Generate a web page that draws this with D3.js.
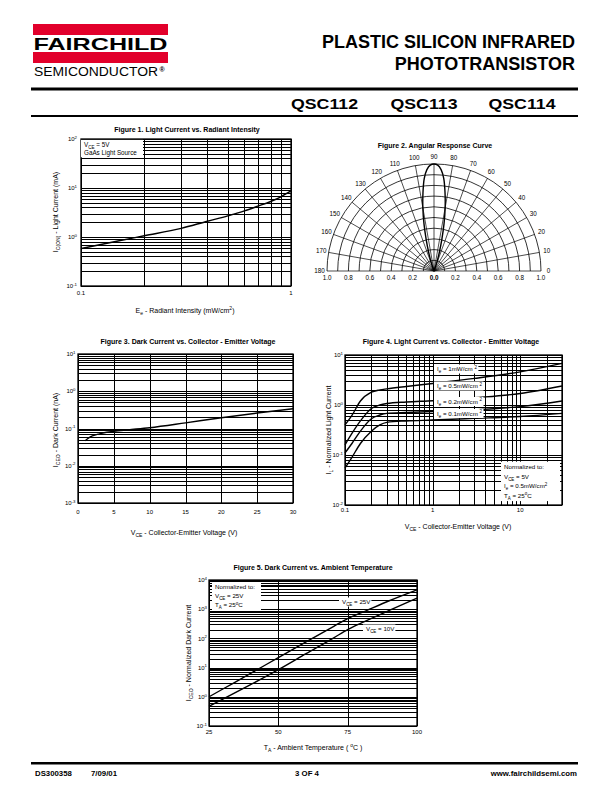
<!DOCTYPE html>
<html>
<head>
<meta charset="utf-8">
<script src="https://cdn.jsdelivr.net/npm/d3@7/dist/d3.min.js"></script>
<style>
html,body{margin:0;padding:0;background:#fff;}
svg{display:block;}
text{font-family:"Liberation Sans",Arial,Helvetica,sans-serif;fill:#000;}
</style>
</head>
<body>
<script>
// ================= DATA =================
const titleLines = ["PLASTIC SILICON INFRARED", "PHOTOTRANSISTOR"];
const partNumbers = ["QSC112", "QSC113", "QSC114"];
const footerLeft = ["DS300358", "7/09/01"];
const footerCenter = "3 OF 4";
const footerRight = "www.fairchildsemi.com";

// Figure 1: light current vs radiant intensity
const fig1Intensity = [0.1, 0.15, 0.2, 0.3, 0.4, 0.5, 0.6, 0.7, 0.8, 0.9, 1.0];
const fig1Current   = [0.58, 0.83, 1.06, 1.5, 2.1, 2.7, 3.4, 4.3, 5.3, 6.7, 8.7];
const fig1XTicks = [0.1, 1];
const fig1YDecades = [-1, 0, 1, 2];

// Figure 2: angular response (offset from axis in degrees, relative response)
const fig2Offsets  = [0, 2, 4, 6, 8, 10, 12, 14, 16, 18, 20];
const fig2Response = [1.0, 0.99, 0.95, 0.87, 0.74, 0.6, 0.45, 0.3, 0.18, 0.09, 0];
const fig2AngleLabels = [0, 10, 20, 30, 40, 50, 60, 70, 80, 90, 100, 110, 120, 130, 140, 150, 160, 170, 180];
const fig2RadiusTicks = [-1.0, -0.8, -0.6, -0.4, -0.2, 0.0, 0.2, 0.4, 0.6, 0.8, 1.0];
const fig2Rings = [0.1, 0.2, 0.3, 0.4, 0.5, 0.6, 0.7, 0.8, 0.9, 1.0];

// Figure 3: dark current vs VCE
const fig3Voltage = [1, 1.5, 2, 3, 4, 5, 7, 10, 15, 20, 25, 30];
const fig3Dark    = [0.047, 0.056, 0.063, 0.072, 0.079, 0.084, 0.092, 0.105, 0.142, 0.195, 0.26, 0.34];
const fig3XTicks = [0, 5, 10, 15, 20, 25, 30];
const fig3YDecades = [-3, -2, -1, 0, 1];

// Figure 4: normalized light current vs VCE
const fig4Voltage = [0.1, 0.12, 0.15, 0.2, 0.25, 0.3, 0.5, 1, 3, 10, 30];
const fig4Ie1  = [0.40, 0.62, 1.2, 1.8, 2.0, 2.1, 2.35, 2.7, 3.4, 4.6, 6.8];
const fig4Ie05 = [0.16, 0.27, 0.48, 0.85, 1.0, 1.07, 1.15, 1.22, 1.4, 1.7, 2.4];
const fig4Ie02 = [0.11, 0.17, 0.3, 0.53, 0.63, 0.68, 0.71, 0.74, 0.8, 0.93, 1.2];
const fig4Ie01 = [0.055, 0.09, 0.17, 0.3, 0.4, 0.45, 0.48, 0.5, 0.54, 0.59, 0.68];
const fig4SeriesNames = ["1mW/cm", "0.5mW/cm", "0.2mW/cm", "0.1mW/cm"];
const fig4XTicks = [0.1, 1, 10];
const fig4YDecades = [-2, -1, 0, 1];

// Figure 5: normalized dark current vs ambient temperature
const fig5Temp  = [25, 30, 40, 50, 60, 70, 75, 80, 90, 100];
const fig5Vce25 = [1.0, 1.85, 6.3, 22, 76, 260, 480, 760, 1950, 4600];
const fig5Vce10 = [0.47, 0.83, 2.6, 8.5, 30, 105, 200, 340, 910, 2400];
const fig5XTicks = [25, 50, 75, 100];
const fig5YDecades = [-1, 0, 1, 2, 3, 4];

// ================= HELPERS =================
const svg = d3.select("body").append("svg").attr("width", 612).attr("height", 792);
svg.append("rect").attr("width", 612).attr("height", 792).attr("fill", "#fff");

function rich(sel, parts, fs) {
  let shift = 0;
  parts.forEach(p => {
    const s = typeof p === "string" ? p : p[0];
    const k = typeof p === "string" ? null : p[1];
    const target = k === "sub" ? fs * 0.3 : k === "sup" ? -fs * 0.4 : 0;
    sel.append("tspan").attr("dy", (target - shift).toFixed(2))
      .attr("font-size", k ? (fs * 0.72).toFixed(2) : fs).text(s);
    shift = target;
  });
  return sel;
}
function logGrid(domain) {
  const out = [];
  const a = Math.floor(Math.log10(domain[0])), b = Math.ceil(Math.log10(domain[1]));
  for (let d = a; d <= b; d++) for (let m = 1; m < 10; m++) {
    const v = +(m * Math.pow(10, d)).toPrecision(6);
    if (v >= domain[0] * 0.9999 && v <= domain[1] * 1.0001) out.push(v);
  }
  return out;
}
function frame(box, x, y, xGrid, yGrid) {
  const g = svg.append("g");
  const w = box.right - box.left, h = box.bottom - box.top;
  g.append("g").attr("class", "grid").attr("transform", `translate(0,${box.bottom})`)
    .call(d3.axisBottom(x).tickValues(xGrid).tickSize(-h).tickSizeOuter(0).tickFormat(""));
  g.append("g").attr("class", "grid").attr("transform", `translate(${box.left},0)`)
    .call(d3.axisLeft(y).tickValues(yGrid).tickSize(-w).tickSizeOuter(0).tickFormat(""));
  g.selectAll(".grid .domain").remove();
  g.selectAll(".grid line").attr("stroke", "#000").attr("stroke-width", 1).attr("shape-rendering", "crispEdges");
  g.append("rect").attr("x", box.left).attr("y", box.top).attr("width", w).attr("height", h)
    .attr("fill", "none").attr("stroke", "#000").attr("stroke-width", 1.3);
  return g;
}
function decadeLabels(y, decs, xRight, fs) {
  decs.forEach(e => {
    const t = svg.append("text").attr("x", xRight).attr("y", y(Math.pow(10, e)) + fs * 0.35)
      .attr("text-anchor", "end").attr("font-size", fs);
    rich(t, ["10", [String(e), "sup"]], fs);
  });
}
function figTitle(text, cx, y) {
  svg.append("text").attr("x", cx).attr("y", y).attr("text-anchor", "middle")
    .attr("font-size", 7).attr("font-weight", "bold").text(text);
}
function xTitle(parts, cx, y) {
  rich(svg.append("text").attr("x", cx).attr("y", y).attr("text-anchor", "middle").attr("font-size", 7), parts, 7);
}
function yTitle(parts, x, cy) {
  rich(svg.append("text").attr("transform", `translate(${x},${cy}) rotate(-90)`).attr("text-anchor", "middle").attr("font-size", 7), parts, 7);
}
function curve(x, y, xs, ys, w) {
  const pts = xs.map((v, i) => [x(v), y(ys[i])]);
  svg.append("path").attr("d", d3.line().curve(d3.curveMonotoneX)(pts))
    .attr("fill", "none").attr("stroke", "#000").attr("stroke-width", w || 1.4);
}
function labelBox(x, yc, lines, fs, lineH, padR, fixedW) {
  const g = svg.append("g");
  const bg = g.append("rect").attr("fill", "#fff");
  let maxW = 0;
  lines.forEach((parts, i) => {
    const t = g.append("text").attr("x", x).attr("y", yc + i * lineH + fs * 0.35).attr("font-size", fs);
    rich(t, parts, fs);
    maxW = Math.max(maxW, t.node().getComputedTextLength());
  });
  const top = yc - lineH / 2 - 0.5, hgt = lines.length * lineH + 1;
  bg.attr("x", x - 3).attr("y", top).attr("width", fixedW || (maxW + 3 + padR)).attr("height", hgt);
  return g;
}

// ================= HEADER =================
const RED = "#e2002b";
svg.append("rect").attr("x", 33).attr("y", 24).attr("width", 135).attr("height", 11).attr("fill", RED);
svg.append("rect").attr("x", 33).attr("y", 52).attr("width", 135).attr("height", 11).attr("fill", RED);
svg.append("text").attr("x", 33.5).attr("y", 50).attr("font-size", 16.5).attr("font-weight", "bold")
  .attr("textLength", 134).attr("lengthAdjust", "spacingAndGlyphs").text("FAIRCHILD");
svg.append("text").attr("x", 34).attr("y", 76).attr("font-size", 12)
  .attr("textLength", 124).attr("lengthAdjust", "spacingAndGlyphs").text("SEMICONDUCTOR");
svg.append("text").attr("x", 159.5).attr("y", 72).attr("font-size", 7).attr("font-weight", "bold").text("®");

titleLines.forEach((t, i) => {
  svg.append("text").attr("x", 575).attr("y", 48 + i * 22).attr("text-anchor", "end")
    .attr("font-size", 18).attr("font-weight", "bold").text(t);
});
svg.append("rect").attr("x", 31).attr("y", 87.5).attr("width", 547).attr("height", 3).attr("fill", "#000");
const partX = [291, 390.5, 488.5];
partNumbers.forEach((p, i) => {
  svg.append("text").attr("x", partX[i]).attr("y", 109).attr("font-size", 15.5).attr("font-weight", "bold")
    .attr("textLength", 67).attr("lengthAdjust", "spacingAndGlyphs").text(p);
});
svg.append("rect").attr("x", 31).attr("y", 115).attr("width", 547).attr("height", 2).attr("fill", "#000");

// ================= FIGURE 1 =================
const b1 = {left: 81, right: 291, top: 139, bottom: 286};
const x1 = d3.scaleLog().domain([0.1, 1]).range([b1.left, b1.right]);
const y1 = d3.scaleLog().domain([0.1, 100]).range([b1.bottom, b1.top]);
frame(b1, x1, y1, logGrid(x1.domain()), logGrid(y1.domain()));
labelBox(84, 144.5, [["V", ["CE", "sub"], " = 5V"], ["GaAs Light Source"]], 6.3, 8.2, 0, 62);
curve(x1, y1, fig1Intensity, fig1Current, 1.4);
figTitle("Figure 1. Light Current vs. Radiant Intensity", 187, 132);
decadeLabels(y1, fig1YDecades, 77, 6);
fig1XTicks.forEach(v => svg.append("text").attr("x", x1(v)).attr("y", 294.5).attr("text-anchor", "middle").attr("font-size", 6).text(String(v)));
xTitle(["E", ["e", "sub"], " - Radiant Intensity (mW/cm", ["2", "sup"], ")"], 185, 313);
yTitle(["I", ["C(ON)", "sub"], " - Light Current (mA)"], 58, 212);

// ================= FIGURE 2 =================
const c2 = {cx: 434, cy: 271, R: 107};
const r2 = d3.scaleLinear().domain([0, 1]).range([0, c2.R]);
const g2 = svg.append("g").attr("transform", `translate(${c2.cx},${c2.cy})`);
fig2Rings.forEach(v => {
  const p = d3.path(); const r = r2(v);
  p.moveTo(-r, 0); p.arc(0, 0, r, Math.PI, 2 * Math.PI);
  g2.append("path").attr("d", p.toString()).attr("fill", "none").attr("stroke", "#000").attr("stroke-width", 0.8);
});
fig2AngleLabels.forEach(a => {
  const t = a * Math.PI / 180;
  g2.append("line").attr("x1", 0).attr("y1", 0).attr("x2", r2(1) * Math.cos(t)).attr("y2", -r2(1) * Math.sin(t))
    .attr("stroke", "#000").attr("stroke-width", 0.7);
  const rl = c2.R + 7.5;
  g2.append("text").attr("x", rl * Math.cos(t)).attr("y", -rl * Math.sin(t) + 2.2)
    .attr("text-anchor", "middle").attr("font-size", 6.3).text(String(a));
});
const lobePts = [];
for (let i = fig2Offsets.length - 1; i >= 0; i--) lobePts.push({a: fig2Offsets[i] * Math.PI / 180, v: fig2Response[i]});
for (let i = 1; i < fig2Offsets.length; i++) lobePts.push({a: -fig2Offsets[i] * Math.PI / 180, v: fig2Response[i]});
g2.append("path").attr("d", d3.lineRadial().angle(d => d.a).radius(d => r2(d.v)).curve(d3.curveCatmullRom)(lobePts))
  .attr("fill", "none").attr("stroke", "#000").attr("stroke-width", 1.4);
fig2RadiusTicks.forEach(v => {
  g2.append("text").attr("x", Math.sign(v) * r2(Math.abs(v))).attr("y", 9).attr("text-anchor", "middle")
    .attr("font-size", 6.3).attr("font-weight", v === 0 ? "bold" : "normal").text(Math.abs(v).toFixed(1));
});
figTitle("Figure 2. Angular Response Curve", 435, 148);

// ================= FIGURE 3 =================
const b3 = {left: 78, right: 293, top: 354, bottom: 503};
const x3 = d3.scaleLinear().domain([0, 30]).range([b3.left, b3.right]);
const y3 = d3.scaleLog().domain([0.001, 10]).range([b3.bottom, b3.top]);
frame(b3, x3, y3, fig3XTicks, logGrid(y3.domain()));
curve(x3, y3, fig3Voltage, fig3Dark, 1.4);
figTitle("Figure 3. Dark Current vs. Collector - Emitter Voltage", 188, 344);
decadeLabels(y3, fig3YDecades, 75.5, 6);
fig3XTicks.forEach(v => svg.append("text").attr("x", x3(v)).attr("y", 514).attr("text-anchor", "middle").attr("font-size", 6).text(String(v)));
xTitle(["V", ["CE", "sub"], " - Collector-Emitter Voltage (V)"], 184, 535);
yTitle(["I", ["CEO", "sub"], " - Dark Current (nA)"], 58, 430);

// ================= FIGURE 4 =================
const b4 = {left: 345, right: 562, top: 355, bottom: 505};
const x4 = d3.scaleLog().domain([0.1, 30]).range([b4.left, b4.right]);
const y4 = d3.scaleLog().domain([0.01, 10]).range([b4.bottom, b4.top]);
frame(b4, x4, y4, logGrid(x4.domain()), logGrid(y4.domain()));
[fig4Ie1, fig4Ie05, fig4Ie02, fig4Ie01].forEach(s => curve(x4, y4, fig4Voltage, s, 1.4));
const fig4LabelY = [369, 386, 401.5, 413.5];
fig4SeriesNames.forEach((n, i) => {
  labelBox(437, fig4LabelY[i], [["I", ["e", "sub"], " = " + n + " ", ["2", "sup"]]], 6.2, 8, 1.5);
});
labelBox(504, 467, [["Normalized to:"], ["V", ["CE", "sub"], " = 5V"], ["I", ["e", "sub"], " = 0.5mW/cm", ["2", "sup"]], ["T", ["A", "sub"], " = 25", ["o", "sup"], "C"]], 6.2, 9.6, 0, 59);
figTitle("Figure 4. Light Current vs. Collector - Emitter Voltage", 451, 344);
decadeLabels(y4, fig4YDecades, 343, 6);
fig4XTicks.forEach(v => svg.append("text").attr("x", x4(v)).attr("y", 512).attr("text-anchor", "middle").attr("font-size", 6).text(String(v)));
xTitle(["V", ["CE", "sub"], " - Collector-Emitter Voltage (V)"], 458, 529);
yTitle(["I", ["L", "sub"], " - Normalized Light Current"], 331, 430);

// ================= FIGURE 5 =================
const b5 = {left: 209, right: 417, top: 580, bottom: 726};
const x5 = d3.scaleLinear().domain([25, 100]).range([b5.left, b5.right]);
const y5 = d3.scaleLog().domain([0.1, 10000]).range([b5.bottom, b5.top]);
frame(b5, x5, y5, fig5XTicks, logGrid(y5.domain()));
labelBox(215, 587, [["Normalized to:"], ["V", ["CE", "sub"], " = 25V"], ["T", ["A", "sub"], " = 25", ["o", "sup"], "C"]], 6.2, 9, 0, 49);
labelBox(342, 602, [["V", ["CE", "sub"], " = 25V"]], 6.2, 8, 1);
labelBox(366, 629, [["V", ["CE", "sub"], " = 10V"]], 6.2, 8, 1);
curve(x5, y5, fig5Temp, fig5Vce25, 1.4);
curve(x5, y5, fig5Temp, fig5Vce10, 1.4);
figTitle("Figure 5. Dark Current vs. Ambient Temperature", 313, 570);
decadeLabels(y5, fig5YDecades, 207, 6);
fig5XTicks.forEach(v => svg.append("text").attr("x", x5(v)).attr("y", 734).attr("text-anchor", "middle").attr("font-size", 6).text(String(v)));
xTitle(["T", ["A", "sub"], " - Ambient Temperature ( ", ["o", "sup"], "C )"], 313, 750);
yTitle(["I", ["CEO", "sub"], " - Normalized Dark Current"], 191, 653);

// ================= FOOTER =================
svg.append("rect").attr("x", 31).attr("y", 762).attr("width", 547).attr("height", 2.5).attr("fill", "#000");
svg.append("text").attr("x", 35).attr("y", 776).attr("font-size", 7.8).attr("font-weight", "bold").text(footerLeft[0]);
svg.append("text").attr("x", 91).attr("y", 776).attr("font-size", 7.8).attr("font-weight", "bold").text(footerLeft[1]);
svg.append("text").attr("x", 307).attr("y", 776).attr("text-anchor", "middle").attr("font-size", 7.8).attr("font-weight", "bold").text(footerCenter);
svg.append("text").attr("x", 577).attr("y", 776).attr("text-anchor", "end").attr("font-size", 7.8).attr("font-weight", "bold").text(footerRight);
</script>
</body>
</html>
